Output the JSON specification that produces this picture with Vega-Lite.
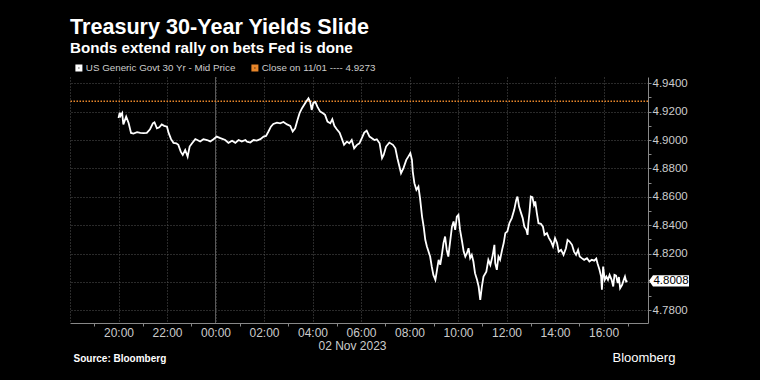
{
"$schema":"https://vega.github.io/schema/vega-lite/v6.json",
"width":578,"height":246,
"autosize":{"type":"none"},
"padding":{"left":70,"top":77,"right":112,"bottom":57},
"background":"#000000",
"title":{"text":"Treasury 30-Year Yields Slide","subtitle":"Bonds extend rally on bets Fed is done","anchor":"start","frame":"group","color":"#ffffff","subtitleColor":"#ffffff","fontSize":21.6,"subtitleFontSize":15.2,"fontWeight":"bold","subtitleFontWeight":"bold","font":"Liberation Sans","subtitleFont":"Liberation Sans","offset":7,"subtitlePadding":2},
"config":{"view":{"stroke":null},"font":"Liberation Sans"},
"datasets":{"yields":[
{"t":"2023-11-01T20:00Z","v":4.9155},{"t":"2023-11-01T20:03Z","v":4.9193},{"t":"2023-11-01T20:05Z","v":4.917},{"t":"2023-11-01T20:09Z","v":4.919},{"t":"2023-11-01T20:12Z","v":4.911},{"t":"2023-11-01T20:19Z","v":4.9165},{"t":"2023-11-01T20:25Z","v":4.912},{"t":"2023-11-01T20:31Z","v":4.905},{"t":"2023-11-01T20:37Z","v":4.9045},{"t":"2023-11-01T20:46Z","v":4.9055},{"t":"2023-11-01T20:54Z","v":4.905},{"t":"2023-11-01T21:02Z","v":4.9048},{"t":"2023-11-01T21:10Z","v":4.905},{"t":"2023-11-01T21:18Z","v":4.9076},{"t":"2023-11-01T21:25Z","v":4.9118},{"t":"2023-11-01T21:29Z","v":4.9125},{"t":"2023-11-01T21:35Z","v":4.9083},{"t":"2023-11-01T21:41Z","v":4.909},{"t":"2023-11-01T21:47Z","v":4.911},{"t":"2023-11-01T21:53Z","v":4.91},{"t":"2023-11-01T22:00Z","v":4.9094},{"t":"2023-11-01T22:04Z","v":4.905},{"t":"2023-11-01T22:10Z","v":4.9006},{"t":"2023-11-01T22:16Z","v":4.898},{"t":"2023-11-01T22:23Z","v":4.8977},{"t":"2023-11-01T22:28Z","v":4.8966},{"t":"2023-11-01T22:34Z","v":4.8918},{"t":"2023-11-01T22:39Z","v":4.8895},{"t":"2023-11-01T22:45Z","v":4.893},{"t":"2023-11-01T22:51Z","v":4.8883},{"t":"2023-11-01T22:56Z","v":4.8954},{"t":"2023-11-01T23:02Z","v":4.8977},{"t":"2023-11-01T23:10Z","v":4.9006},{"t":"2023-11-01T23:15Z","v":4.9},{"t":"2023-11-01T23:22Z","v":4.899},{"t":"2023-11-01T23:30Z","v":4.9006},{"t":"2023-11-01T23:39Z","v":4.9},{"t":"2023-11-01T23:47Z","v":4.899},{"t":"2023-11-01T23:55Z","v":4.9006},
{"t":"2023-11-02T00:03Z","v":4.9024},{"t":"2023-11-02T00:12Z","v":4.9013},{"t":"2023-11-02T00:24Z","v":4.9},{"t":"2023-11-02T00:32Z","v":4.898},{"t":"2023-11-02T00:41Z","v":4.8995},{"t":"2023-11-02T00:49Z","v":4.898},{"t":"2023-11-02T00:57Z","v":4.9},{"t":"2023-11-02T01:05Z","v":4.899},{"t":"2023-11-02T01:14Z","v":4.9},{"t":"2023-11-02T01:18Z","v":4.8989},{"t":"2023-11-02T01:26Z","v":4.8982},{"t":"2023-11-02T01:34Z","v":4.9},{"t":"2023-11-02T01:42Z","v":4.8996},{"t":"2023-11-02T01:51Z","v":4.9006},{"t":"2023-11-02T01:59Z","v":4.9024},{"t":"2023-11-02T02:05Z","v":4.9029},{"t":"2023-11-02T02:11Z","v":4.906},{"t":"2023-11-02T02:17Z","v":4.9094},{"t":"2023-11-02T02:23Z","v":4.9113},{"t":"2023-11-02T02:32Z","v":4.9123},{"t":"2023-11-02T02:40Z","v":4.9118},{"t":"2023-11-02T02:48Z","v":4.9127},{"t":"2023-11-02T02:57Z","v":4.911},{"t":"2023-11-02T03:05Z","v":4.91},{"t":"2023-11-02T03:11Z","v":4.906},{"t":"2023-11-02T03:17Z","v":4.9083},{"t":"2023-11-02T03:23Z","v":4.9142},{"t":"2023-11-02T03:28Z","v":4.9189},{"t":"2023-11-02T03:34Z","v":4.9224},{"t":"2023-11-02T03:39Z","v":4.9247},{"t":"2023-11-02T03:44Z","v":4.927},{"t":"2023-11-02T03:50Z","v":4.9294},{"t":"2023-11-02T03:54Z","v":4.927},{"t":"2023-11-02T03:58Z","v":4.9212},{"t":"2023-11-02T04:02Z","v":4.9263},{"t":"2023-11-02T04:07Z","v":4.9268},{"t":"2023-11-02T04:12Z","v":4.9235},{"t":"2023-11-02T04:19Z","v":4.92},{"t":"2023-11-02T04:26Z","v":4.9189},{"t":"2023-11-02T04:31Z","v":4.9177},{"t":"2023-11-02T04:37Z","v":4.913},{"t":"2023-11-02T04:44Z","v":4.9118},{"t":"2023-11-02T04:49Z","v":4.9147},{"t":"2023-11-02T04:54Z","v":4.91},{"t":"2023-11-02T05:00Z","v":4.9076},{"t":"2023-11-02T05:07Z","v":4.9052},{"t":"2023-11-02T05:13Z","v":4.9006},{"t":"2023-11-02T05:18Z","v":4.8966},{"t":"2023-11-02T05:25Z","v":4.8989},{"t":"2023-11-02T05:31Z","v":4.8977},{"t":"2023-11-02T05:37Z","v":4.9},{"t":"2023-11-02T05:43Z","v":4.8942},{"t":"2023-11-02T05:50Z","v":4.8966},{"t":"2023-11-02T05:56Z","v":4.8977},{"t":"2023-11-02T06:02Z","v":4.9013},{"t":"2023-11-02T06:08Z","v":4.9052},{"t":"2023-11-02T06:14Z","v":4.9066},{"t":"2023-11-02T06:21Z","v":4.9024},{"t":"2023-11-02T06:27Z","v":4.9013},{"t":"2023-11-02T06:33Z","v":4.9},{"t":"2023-11-02T06:39Z","v":4.9005},{"t":"2023-11-02T06:46Z","v":4.8977},{"t":"2023-11-02T06:52Z","v":4.8872},{"t":"2023-11-02T06:56Z","v":4.8895},{"t":"2023-11-02T07:02Z","v":4.8954},{"t":"2023-11-02T07:10Z","v":4.8982},{"t":"2023-11-02T07:19Z","v":4.8966},{"t":"2023-11-02T07:25Z","v":4.8942},{"t":"2023-11-02T07:30Z","v":4.8872},{"t":"2023-11-02T07:35Z","v":4.8813},{"t":"2023-11-02T07:39Z","v":4.8766},{"t":"2023-11-02T07:45Z","v":4.8802},{"t":"2023-11-02T07:52Z","v":4.886},{"t":"2023-11-02T07:57Z","v":4.8883},{"t":"2023-11-02T08:02Z","v":4.8907},{"t":"2023-11-02T08:06Z","v":4.886},{"t":"2023-11-02T08:08Z","v":4.8778},{"t":"2023-11-02T08:12Z","v":4.8696},{"t":"2023-11-02T08:17Z","v":4.8649},{"t":"2023-11-02T08:22Z","v":4.8672},{"t":"2023-11-02T08:26Z","v":4.859},{"t":"2023-11-02T08:31Z","v":4.8461},{"t":"2023-11-02T08:35Z","v":4.839},{"t":"2023-11-02T08:39Z","v":4.8297},{"t":"2023-11-02T08:43Z","v":4.825},{"t":"2023-11-02T08:47Z","v":4.8214},{"t":"2023-11-02T08:51Z","v":4.8179},{"t":"2023-11-02T08:55Z","v":4.8109},{"t":"2023-11-02T08:59Z","v":4.805},{"t":"2023-11-02T09:04Z","v":4.8015},{"t":"2023-11-02T09:08Z","v":4.8086},{"t":"2023-11-02T09:12Z","v":4.8156},{"t":"2023-11-02T09:16Z","v":4.8121},{"t":"2023-11-02T09:20Z","v":4.8191},{"t":"2023-11-02T09:24Z","v":4.8274},{"t":"2023-11-02T09:28Z","v":4.832},{"t":"2023-11-02T09:32Z","v":4.8226},{"t":"2023-11-02T09:36Z","v":4.8179},{"t":"2023-11-02T09:41Z","v":4.8297},{"t":"2023-11-02T09:45Z","v":4.839},{"t":"2023-11-02T09:49Z","v":4.8426},{"t":"2023-11-02T09:53Z","v":4.8367},{"t":"2023-11-02T09:57Z","v":4.8461},{"t":"2023-11-02T10:01Z","v":4.8473},{"t":"2023-11-02T10:05Z","v":4.8367},{"t":"2023-11-02T10:10Z","v":4.8285},{"t":"2023-11-02T10:14Z","v":4.8214},{"t":"2023-11-02T10:18Z","v":4.8179},{"t":"2023-11-02T10:22Z","v":4.8203},{"t":"2023-11-02T10:26Z","v":4.8238},{"t":"2023-11-02T10:30Z","v":4.8168},{"t":"2023-11-02T10:34Z","v":4.8191},{"t":"2023-11-02T10:38Z","v":4.8144},{"t":"2023-11-02T10:42Z","v":4.8062},{"t":"2023-11-02T10:47Z","v":4.8015},{"t":"2023-11-02T10:51Z","v":4.7968},{"t":"2023-11-02T10:55Z","v":4.7874},{"t":"2023-11-02T10:59Z","v":4.7968},{"t":"2023-11-02T11:03Z","v":4.8038},{"t":"2023-11-02T11:10Z","v":4.8073},{"t":"2023-11-02T11:15Z","v":4.8156},{"t":"2023-11-02T11:20Z","v":4.812},{"t":"2023-11-02T11:26Z","v":4.8191},{"t":"2023-11-02T11:30Z","v":4.8262},{"t":"2023-11-02T11:32Z","v":4.8132},{"t":"2023-11-02T11:36Z","v":4.8086},{"t":"2023-11-02T11:40Z","v":4.8179},{"t":"2023-11-02T11:44Z","v":4.8156},{"t":"2023-11-02T11:49Z","v":4.8226},{"t":"2023-11-02T11:53Z","v":4.8274},{"t":"2023-11-02T11:57Z","v":4.8344},{"t":"2023-11-02T12:02Z","v":4.8355},{"t":"2023-11-02T12:07Z","v":4.8414},{"t":"2023-11-02T12:13Z","v":4.845},{"t":"2023-11-02T12:19Z","v":4.8508},{"t":"2023-11-02T12:24Z","v":4.8578},{"t":"2023-11-02T12:27Z","v":4.8602},{"t":"2023-11-02T12:31Z","v":4.8531},{"t":"2023-11-02T12:36Z","v":4.8485},{"t":"2023-11-02T12:40Z","v":4.845},{"t":"2023-11-02T12:44Z","v":4.839},{"t":"2023-11-02T12:49Z","v":4.8367},{"t":"2023-11-02T12:52Z","v":4.8332},{"t":"2023-11-02T12:54Z","v":4.8414},{"t":"2023-11-02T12:57Z","v":4.8496},{"t":"2023-11-02T13:00Z","v":4.8602},{"t":"2023-11-02T13:04Z","v":4.8598},{"t":"2023-11-02T13:08Z","v":4.8543},{"t":"2023-11-02T13:11Z","v":4.8567},{"t":"2023-11-02T13:15Z","v":4.8485},{"t":"2023-11-02T13:19Z","v":4.8414},{"t":"2023-11-02T13:25Z","v":4.841},{"t":"2023-11-02T13:30Z","v":4.839},{"t":"2023-11-02T13:34Z","v":4.8332},{"t":"2023-11-02T13:40Z","v":4.8344},{"t":"2023-11-02T13:45Z","v":4.8309},{"t":"2023-11-02T13:50Z","v":4.8285},{"t":"2023-11-02T13:55Z","v":4.825},{"t":"2023-11-02T14:00Z","v":4.8309},{"t":"2023-11-02T14:05Z","v":4.8274},{"t":"2023-11-02T14:09Z","v":4.8214},{"t":"2023-11-02T14:15Z","v":4.8226},{"t":"2023-11-02T14:21Z","v":4.8191},{"t":"2023-11-02T14:27Z","v":4.8238},{"t":"2023-11-02T14:31Z","v":4.8297},{"t":"2023-11-02T14:36Z","v":4.8285},{"t":"2023-11-02T14:42Z","v":4.8262},{"t":"2023-11-02T14:47Z","v":4.8214},{"t":"2023-11-02T14:52Z","v":4.8191},{"t":"2023-11-02T14:57Z","v":4.8226},{"t":"2023-11-02T15:01Z","v":4.8179},{"t":"2023-11-02T15:06Z","v":4.8168},{"t":"2023-11-02T15:12Z","v":4.8156},{"t":"2023-11-02T15:19Z","v":4.8168},{"t":"2023-11-02T15:25Z","v":4.8144},{"t":"2023-11-02T15:31Z","v":4.8156},{"t":"2023-11-02T15:37Z","v":4.815},{"t":"2023-11-02T15:42Z","v":4.8165},{"t":"2023-11-02T15:45Z","v":4.8132},{"t":"2023-11-02T15:50Z","v":4.8086},{"t":"2023-11-02T15:54Z","v":4.8038},{"t":"2023-11-02T15:56Z","v":4.7945},{"t":"2023-11-02T15:59Z","v":4.8109},{"t":"2023-11-02T16:03Z","v":4.8015},{"t":"2023-11-02T16:07Z","v":4.8038},{"t":"2023-11-02T16:11Z","v":4.8015},{"t":"2023-11-02T16:15Z","v":4.805},{"t":"2023-11-02T16:20Z","v":4.8015},{"t":"2023-11-02T16:24Z","v":4.7968},{"t":"2023-11-02T16:27Z","v":4.805},{"t":"2023-11-02T16:31Z","v":4.8045},{"t":"2023-11-02T16:35Z","v":4.7992},{"t":"2023-11-02T16:38Z","v":4.8035},{"t":"2023-11-02T16:41Z","v":4.7956},{"t":"2023-11-02T16:46Z","v":4.798},{"t":"2023-11-02T16:50Z","v":4.8015},{"t":"2023-11-02T16:53Z","v":4.8038},{"t":"2023-11-02T16:56Z","v":4.8003},{"t":"2023-11-02T16:59Z","v":4.8008}
]},
"resolve":{"axis":{"x":"independent","y":"independent"}},
"layer":[
{"data":{"values":[{}]},
 "mark":{"type":"rule","color":"#5a5a5a","strokeWidth":1},
 "encoding":{"x":{"datum":{"year":2023,"month":11,"date":2,"hours":0,"utc":true},"type":"temporal",
   "axis":{"orient":"bottom","domain":false,"ticks":false,"labels":false,"grid":false,"title":"Source: Bloomberg","titleX":3,"titleY":38,"titleAlign":"left","titleAnchor":"start","titleBaseline":"alphabetic","titleColor":"#ffffff","titleFontSize":10,"titleFontWeight":"bold","titleFont":"Liberation Sans"}}}},
{"data":{"values":[{}]},
 "mark":{"type":"rule","strokeDash":[1.5,1.5],"strokeWidth":1.3},
 "encoding":{"y":{"datum":4.9273,"type":"quantitative",
   "axis":{"orient":"right","values":[4.79,4.81,4.83,4.85,4.87,4.89,4.91,4.93],"labels":false,"grid":false,"domain":false,"ticks":true,"tickSize":3,"tickColor":"#888888","title":null}},
   "color":{"datum":"Close on 11/01 ---- 4.9273","type":"nominal"}}},
{"data":{"name":"yields"},
 "mark":{"type":"line","strokeWidth":1.8,"interpolate":"linear"},
 "encoding":{
  "x":{"field":"t","type":"temporal",
   "scale":{"type":"utc","nice":false,"domain":[{"year":2023,"month":11,"date":1,"hours":18,"utc":true},{"year":2023,"month":11,"date":2,"hours":17,"minutes":50,"utc":true}]},
   "axis":{"orient":"bottom","values":[
     {"year":2023,"month":11,"date":1,"hours":18,"utc":true},{"year":2023,"month":11,"date":1,"hours":19,"utc":true},{"year":2023,"month":11,"date":1,"hours":20,"utc":true},{"year":2023,"month":11,"date":1,"hours":21,"utc":true},{"year":2023,"month":11,"date":1,"hours":22,"utc":true},{"year":2023,"month":11,"date":1,"hours":23,"utc":true},
     {"year":2023,"month":11,"date":2,"hours":0,"utc":true},{"year":2023,"month":11,"date":2,"hours":1,"utc":true},{"year":2023,"month":11,"date":2,"hours":2,"utc":true},{"year":2023,"month":11,"date":2,"hours":3,"utc":true},{"year":2023,"month":11,"date":2,"hours":4,"utc":true},{"year":2023,"month":11,"date":2,"hours":5,"utc":true},{"year":2023,"month":11,"date":2,"hours":6,"utc":true},{"year":2023,"month":11,"date":2,"hours":7,"utc":true},{"year":2023,"month":11,"date":2,"hours":8,"utc":true},{"year":2023,"month":11,"date":2,"hours":9,"utc":true},{"year":2023,"month":11,"date":2,"hours":10,"utc":true},{"year":2023,"month":11,"date":2,"hours":11,"utc":true},{"year":2023,"month":11,"date":2,"hours":12,"utc":true},{"year":2023,"month":11,"date":2,"hours":13,"utc":true},{"year":2023,"month":11,"date":2,"hours":14,"utc":true},{"year":2023,"month":11,"date":2,"hours":15,"utc":true},{"year":2023,"month":11,"date":2,"hours":16,"utc":true},{"year":2023,"month":11,"date":2,"hours":17,"utc":true}],
    "format":"%H:%M","labelExpr":"(utchours(datum.value) % 2 == 1 || utchours(datum.value) == 18) ? '' : datum.label",
    "labelOverlap":false,"labelFlush":false,"labelColor":"#cccccc","labelFontSize":12,"labelPadding":1,"labelFont":"Liberation Sans",
    "ticks":true,"tickSize":3,"tickColor":"#888888","tickOpacity":{"condition":{"test":"utchours(datum.value) % 2 == 1","value":1},"value":0},
    "grid":true,"gridColor":"#555555","gridDash":[1,2],"gridOpacity":{"condition":{"test":"utchours(datum.value) % 2 == 1","value":0},"value":1},
    "domain":true,"domainColor":"#888888",
    "title":"02 Nov 2023","titleColor":"#cccccc","titleFontSize":12,"titleFontWeight":"normal","titleFont":"Liberation Sans","titleX":282,"titleY":26,"titleAlign":"center","titleBaseline":"alphabetic"}},
  "y":{"field":"v","type":"quantitative",
   "scale":{"domain":[4.7711,4.9444],"zero":false,"nice":false},
   "axis":{"orient":"right","values":[4.78,4.8,4.82,4.84,4.86,4.88,4.9,4.92,4.94],"format":".4f",
    "labelExpr":"abs(datum.value - 4.8) < 0.001 ? '' : datum.label",
    "labelOverlap":false,"labelFlush":false,"labelColor":"#cccccc","labelFontSize":11.5,"labelPadding":1,"labelFont":"Liberation Sans",
    "tickSize":3,"tickColor":"#888888",
    "grid":true,"gridColor":"#555555","gridDash":[1,2],
    "domain":true,"domainColor":"#888888",
    "title":"Bloomberg","titleAngle":0,"titleX":-36,"titleY":284,"titleAlign":"left","titleBaseline":"alphabetic","titleColor":"#ffffff","titleFontSize":13,"titleFontWeight":"normal","titleFont":"Liberation Sans"}},
  "color":{"datum":"US Generic Govt 30 Yr - Mid Price","type":"nominal",
   "scale":{"domain":["US Generic Govt 30 Yr - Mid Price","Close on 11/01 ---- 4.9273"],"range":["#ffffff","#e8862a"]},
   "legend":{"orient":"none","legendX":4,"legendY":-14,"direction":"horizontal","title":null,"symbolType":"square","symbolSize":16,"symbolStrokeWidth":3,"symbolDash":[],"symbolOpacity":1,"labelColor":"#cccccc","labelFontSize":9.8,"labelFont":"Liberation Sans","columnPadding":10,"labelOffset":2}}}},
{"data":{"values":[{}]},
 "mark":{"type":"point","shape":"M-1,0L-0.8,-0.28L1,-0.28L1,0.28L-0.8,0.28Z","size":1600,"filled":true,"color":"#ffffff","opacity":1,"strokeWidth":0,"xOffset":21},
 "encoding":{"x":{"datum":{"year":2023,"month":11,"date":2,"hours":17,"minutes":50,"utc":true},"type":"temporal","axis":null},
   "y":{"datum":4.8008,"type":"quantitative","axis":null}}},
{"data":{"values":[{}]},
 "mark":{"type":"text","text":"4.8008","color":"#000000","fontSize":11.5,"font":"Liberation Sans","xOffset":23,"align":"center","baseline":"middle"},
 "encoding":{"x":{"datum":{"year":2023,"month":11,"date":2,"hours":17,"minutes":50,"utc":true},"type":"temporal","axis":null},
   "y":{"datum":4.8008,"type":"quantitative","axis":null}}}
]
}
